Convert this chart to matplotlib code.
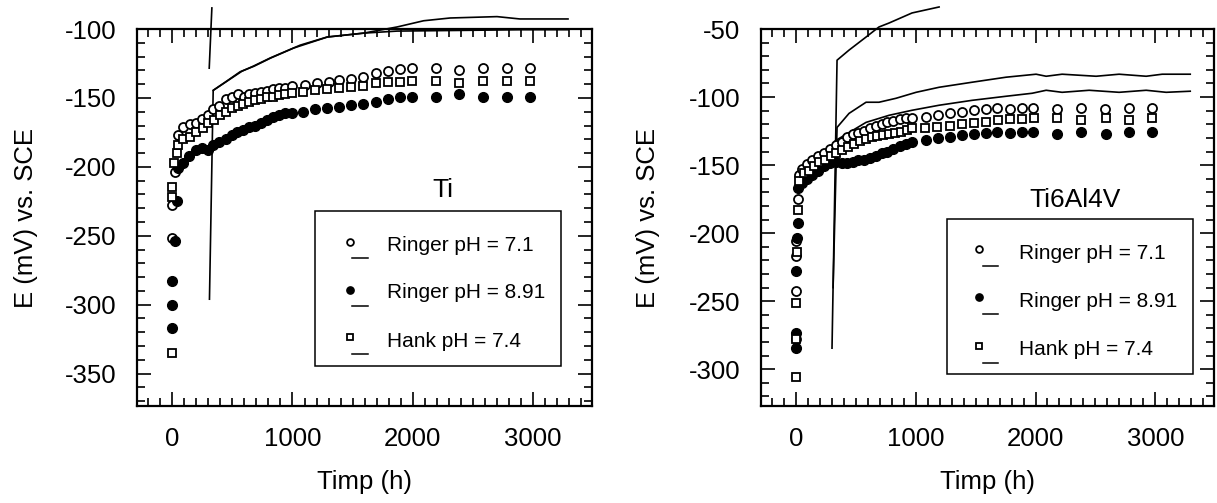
import numpy as np
import matplotlib
matplotlib.use("Agg")
import matplotlib.pyplot as plt
from matplotlib.ticker import MultipleLocator
from matplotlib.patches import Rectangle

plt.rcParams['font.family'] = ['Liberation Sans', 'DejaVu Sans']
plt.rcParams['axes.unicode_minus'] = False

# ---- Ti panel ----
ti_r71_t = [0, 0, 25, 50, 90, 150, 200, 250, 300, 340, 390, 450, 500, 550, 600, 640, 690, 740, 790, 840,
            890, 940, 1000, 1100, 1200, 1300, 1390, 1490, 1590, 1690, 1790, 1890, 1995, 2190, 2385, 2585, 2785, 2975]
ti_r71_E = [-251.5, -228, -204, -177, -171, -169, -168.5, -165, -162.7, -158, -156, -151, -149, -147, -149, -147.5,
            -146.7, -146, -145, -143.8, -143, -142.5, -141.5, -140.8, -139, -138.6, -137, -136.5, -135, -132,
            -130.6, -129, -128.5, -128.5, -130, -128.5, -128.5, -128.5]

ti_r89_t = [0, 0, 0, 25, 40, 50, 90, 140, 200, 250, 300, 340, 390, 450, 500, 540, 590, 640, 690, 740,
            790, 840, 890, 940, 1000, 1090, 1190, 1290, 1390, 1490, 1590, 1690, 1790, 1890, 1995, 2190, 2385, 2585, 2785, 2975]
ti_r89_E = [-317, -300.5, -283, -253.8, -224.6, -200.6, -197, -192, -188, -186, -187.5, -184, -182, -179.5, -177,
            -175, -173.6, -171.4, -170, -168.5, -166.3, -164, -162.7, -161, -161, -160.5, -158.3, -157.6, -156.9,
            -155.4, -154.7, -153.2, -151, -149.6, -149.6, -149.6, -147.4, -149.6, -149.6, -149.6]

ti_hank_t = [0, 0, 0, 15, 40, 50, 90, 150, 200, 255, 300, 350, 400, 450, 500, 550, 590, 640, 690, 740,
             790, 840, 890, 940, 1000, 1090, 1190, 1290, 1390, 1490, 1590, 1690, 1790, 1890, 1995, 2190, 2385, 2585, 2785, 2975]
ti_hank_E = [-334.7, -222, -214.5, -197, -189.7, -184, -180, -178, -175, -172, -168.5, -166, -162.7, -160.5, -157.6,
             -156, -154.7, -153, -151.7, -151, -149.6, -149, -148, -147.4, -146.6, -146, -144.5, -143.7, -143,
             -142.3, -141.5, -139.4, -138.6, -138.6, -138, -138, -139.4, -138, -138, -138]

ti_line1_t = [310, 341, 440, 565, 680, 820, 1010, 1290, 1590, 1870, 2090, 2310, 2700, 2890, 3290]
ti_line1_E = [-296, -144.5, -138.6, -131, -127, -121, -113.8, -105.8, -103, -98.5, -94, -92, -91, -92.7, -92.7]
ti_line2_t = [330, 308, np.nan, 341, 580, 673, 815, 1064, 1288, 1588, 1870, 2400, 2900, 3290]
ti_line2_E = [-84.7, -128.4, np.nan, -144.5, -130.6, -127, -121, -111.7, -105.8, -103, -101.5, -101, -100.5, -100.5]

# ---- Ti6Al4V panel ----
ta_r71_t = [0, 0, 0, 0, 15, 25, 50, 92, 134, 184, 234, 284, 334, 384, 426, 476, 518, 568, 618, 668,
            718, 760, 810, 869, 919, 969, 1086, 1186, 1287, 1387, 1487, 1587, 1679, 1788, 1888, 1980,
            2180, 2381, 2581, 2782, 2974]
ta_r71_E = [-278, -242.5, -216.7, -205.6, -175, -157, -152.5, -149, -146.6, -143.6, -141.4, -137.8, -135.5,
            -133.3, -129.6, -127.4, -126.7, -125.2, -123, -121.5, -120, -118.6, -117.8, -116.4, -115.6, -115.6,
            -114.9, -113.4, -112, -111.2, -109.7, -109, -108.3, -109, -108.3, -108.3, -109, -108.3, -109, -108.3, -108.3]

ta_r89_t = [0, 0, 0, 5, 15, 20, 50, 92, 134, 184, 234, 284, 334, 384, 426, 476, 518, 568, 618, 668,
            718, 760, 810, 869, 919, 969, 1086, 1186, 1287, 1387, 1487, 1587, 1679, 1788, 1888, 1980,
            2180, 2381, 2590, 2782, 2974]
ta_r89_E = [-284.5, -273.5, -227.7, -203.4, -192.3, -166.5, -162.8, -160, -157, -154, -151, -148.8, -148,
            -148.8, -148.8, -148, -146.6, -145.9, -144.4, -143, -141.4, -140, -137.8, -136.3, -134.8, -133.3,
            -131.9, -130.4, -129.6, -128.2, -127.4, -126.7, -126, -126.7, -126, -126, -127.4, -126, -127.4, -126, -126]

ta_hank_t = [0, 0, 0, 5, 15, 25, 67, 109, 150, 192, 242, 292, 334, 384, 434, 485, 535, 585, 635, 677,
             727, 777, 827, 877, 927, 969, 1078, 1178, 1287, 1387, 1487, 1587, 1688, 1788, 1888, 1988,
             2180, 2381, 2590, 2782, 2974]
ta_hank_E = [-306, -278, -251.3, -213.7, -182.7, -161.4, -156, -154, -151, -148, -146, -143, -141.4, -139.2,
             -137, -134.8, -132.6, -131, -129.6, -128.9, -128.2, -127.4, -126.7, -126, -124.5, -123, -123,
             -122.3, -121.5, -120, -119.3, -118.6, -117, -116.4, -116.4, -115.6, -115.6, -117, -115.6, -117, -115.6]

ta_line1_t = [301, 343, 443, 585, 693, 777, 969, 1195]
ta_line1_E = [-284.5, -72.9, -65.5, -55.9, -48.5, -45.6, -38.2, -33.8]
ta_line2_t = [310, 343, 443, 585, 693, 835, 1003, 1195, 1470, 1754, 2005, 2089, 2222, 2506, 2698, 2924, 3058, 3292]
ta_line2_E = [-240, -122.3, -112, -103.8, -103.8, -100.9, -96.5, -92.8, -89.1, -85.4, -83.2, -84.7, -83.2,
              -84.7, -83.2, -84.7, -83.2, -83.2]
ta_line3_t = [330, 585, 777, 969, 1195, 1470, 1754, 1972, 2089, 2222, 2448, 2698, 2924, 3091, 3292]
ta_line3_E = [-132, -118.6, -113.4, -109.7, -106, -102.4, -99.4, -97.2, -95, -96.5, -95, -96.5, -95, -96.5, -95.7]

legend_labels = ['Ringer pH = 7.1', 'Ringer pH = 8.91', 'Hank pH = 7.4']

# marker styles: open circle, filled circle, open square
styles = [dict(marker='o', mfc='white', mec='black', ms=6.5, mew=1.3),
          dict(marker='o', mfc='black', mec='black', ms=7, mew=1.0),
          dict(marker='s', mfc='white', mec='black', ms=5.8, mew=1.3)]

fig = plt.figure(figsize=(12.17, 5.03), dpi=100)
ax1 = fig.add_axes([0.1126, 0.1928, 0.3739, 0.7495])
ax2 = fig.add_axes([0.6253, 0.1928, 0.3722, 0.7495])


def setup(ax, ylim, major_y):
    ax.set_xlim(-292, 3490)
    ax.set_ylim(*ylim)
    ax.xaxis.set_major_locator(MultipleLocator(1000))
    ax.xaxis.set_minor_locator(MultipleLocator(100))
    ax.yaxis.set_major_locator(MultipleLocator(major_y))
    ax.yaxis.set_minor_locator(MultipleLocator(10))
    ax.tick_params(which='both', direction='in', top=True, right=True, width=1.2, labelsize=18.5, pad=15)
    ax.tick_params(which='major', length=10)
    ax.tick_params(which='minor', length=6)
    for s in ax.spines.values():
        s.set_linewidth(1.6)
    ax.set_xlabel('Timp (h)', fontsize=18.5)
    ax.set_ylabel('E (mV) vs. SCE', fontsize=18.5)


def legend(ax, x0, y0, w, h, mx, dx0, dx1, tx, my, dy, ty):
    ax.add_patch(Rectangle((x0, y0), w, h, transform=ax.transAxes, fill=False,
                           lw=1.1, edgecolor='black', zorder=5))
    for i, lab in enumerate(legend_labels):
        st = dict(styles[i])
        st['ms'] = st['ms'] * 0.75
        ax.plot([mx], [my[i]], transform=ax.transAxes, clip_on=False, ls='none', zorder=6, **st)
        ax.plot([dx0, dx1], [dy[i], dy[i]], transform=ax.transAxes, color='black', lw=1.1,
                clip_on=False, zorder=6)
        ax.text(tx, ty[i], lab, transform=ax.transAxes, fontsize=15, va='baseline', ha='left', zorder=6)


# Ti
setup(ax1, (-373.5, -100), 50)
for (t, e), st in zip([(ti_r71_t, ti_r71_E), (ti_r89_t, ti_r89_E), (ti_hank_t, ti_hank_E)], styles):
    ax1.plot(t, e, ls='none', zorder=3, **st)
for t, e in [(ti_line1_t, ti_line1_E), (ti_line2_t, ti_line2_E)]:
    ax1.plot(t, e, color='black', lw=1.2, clip_on=False, zorder=2)
ax1.text(0.673, 0.554, 'Ti', transform=ax1.transAxes, fontsize=19, ha='center', va='baseline')
legend(ax1, 0.391, 0.106, 0.541, 0.411, 0.468, 0.473, 0.508, 0.549,
       [0.435, 0.308, 0.183], [0.393, 0.265, 0.138], [0.411, 0.286, 0.156])
ax1.xaxis.set_label_coords(0.5, -0.17)
ax1.yaxis.set_label_coords(-0.218, 0.5)

# Ti6Al4V
setup(ax2, (-327, -50), 50)
for (t, e), st in zip([(ta_r71_t, ta_r71_E), (ta_r89_t, ta_r89_E), (ta_hank_t, ta_hank_E)], styles):
    ax2.plot(t, e, ls='none', zorder=3, **st)
for t, e in [(ta_line1_t, ta_line1_E), (ta_line2_t, ta_line2_E), (ta_line3_t, ta_line3_E)]:
    ax2.plot(t, e, color='black', lw=1.2, clip_on=False, zorder=2)
ax2.text(0.693, 0.528, 'Ti6Al4V', transform=ax2.transAxes, fontsize=19, ha='center', va='baseline')
legend(ax2, 0.411, 0.085, 0.543, 0.411, 0.481, 0.490, 0.523, 0.570,
       [0.416, 0.289, 0.159], [0.371, 0.244, 0.114], [0.390, 0.263, 0.135])
ax2.xaxis.set_label_coords(0.5, -0.17)
ax2.yaxis.set_label_coords(-0.223, 0.5)

fig.savefig('out.png', dpi=100)
